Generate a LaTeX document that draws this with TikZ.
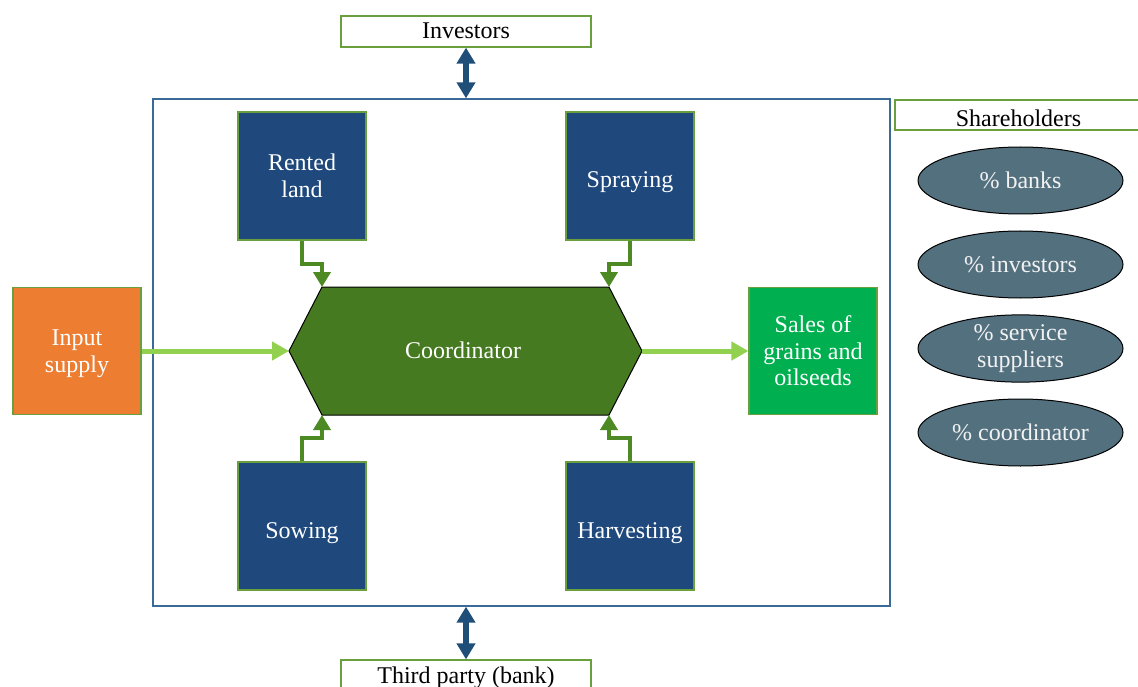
\documentclass[tikz,border=0pt]{standalone}
\usepackage{fontspec}
\setmainfont{Liberation Serif}
\usetikzlibrary{arrows.meta,shapes.geometric,calc}
\definecolor{boxgreen}{HTML}{6A9F3E}
\definecolor{darkblue}{HTML}{1F497D}
\definecolor{frameblue}{HTML}{3A6A98}
\definecolor{arrowblue}{HTML}{1F4E79}
\definecolor{hexgreen}{HTML}{467A21}
\definecolor{elbowgreen}{HTML}{4E8A23}
\definecolor{lightgreen}{HTML}{92D050}
\definecolor{orangefill}{HTML}{ED7D31}
\definecolor{salesgreen}{HTML}{00B050}
\definecolor{slate}{HTML}{53707F}
\begin{document}
\begin{tikzpicture}[x=1pt,y=-1pt,
  txt/.style={font=\fontsize{24}{26.5}\selectfont, align=center},
  sqbox/.style={txt, draw=boxgreen, line width=1.2pt, minimum width=128pt, minimum height=128pt, inner sep=0pt, text=white},
  actbox/.style={sqbox, fill=darkblue},
  lowtext/.style={text height=29pt, text depth=5pt},
  labbox/.style={txt, draw=boxgreen, line width=1.2pt, fill=white, inner sep=0pt, text=black},
  share/.style={ellipse, txt, draw=black, line width=1pt, fill=slate, text=white!95!black, minimum width=205pt, minimum height=67pt, inner sep=0pt},
  bluearrow/.style={draw=arrowblue, line width=6.5pt, {Triangle[length=16pt,width=18pt]}-{Triangle[length=16pt,width=18pt]}},
  flowarrow/.style={draw=lightgreen, line width=5pt, -{Triangle[length=17pt,width=18pt]}},
  elbow/.style={draw=elbowgreen, line width=4.5pt, -{Triangle[length=15pt,width=17pt]}}
]
\useasboundingbox (0,0) rectangle (1138,687);

% main frame
\node[draw=frameblue, line width=1.3pt, minimum width=737pt, minimum height=507pt, inner sep=0pt] (fr) at (521.5,352.5) {};

% top / bottom labels
\node[labbox, minimum width=250pt, minimum height=31pt, text height=20pt, text depth=5pt] (inv) at (466,31.5) {Investors};
\node[labbox, minimum width=250pt, minimum height=33pt, text height=19pt, text depth=5pt] (tp) at (466,676.5) {Third party (bank)};
\node[labbox, minimum width=247pt, minimum height=30pt, text height=23pt, text depth=0pt] (sh) at (1018.5,115) {Shareholders};

\draw[bluearrow] (inv.south) -- (inv.south |- fr.north);
\draw[bluearrow] (fr.south -| tp.north) -- (tp.north);

% activity boxes
\node[actbox] (rl) at (302,176) {Rented\\land};
\node[actbox, lowtext] (sp) at (630,176) {Spraying};
\node[actbox, lowtext] (sw) at (302,526) {Sowing};
\node[actbox, lowtext] (hv) at (630,526) {Harvesting};

% side boxes
\node[sqbox, fill=orangefill, minimum height=127pt] (is) at (77,351) {\rule{0pt}{21pt}Input\\supply};
\node[sqbox, fill=salesgreen, minimum height=127pt] (sa) at (813,351) {Sales of\\grains and\\oilseeds};

% coordinator hexagon
\coordinate (hxl) at (289,351);
\coordinate (hxtl) at (322,287);
\coordinate (hxtr) at (609,287);
\coordinate (hxr) at (642,351);
\coordinate (hxbr) at (609,415);
\coordinate (hxbl) at (322,415);
\draw[fill=hexgreen, draw=black, line width=1pt] (hxl) -- (hxtl) -- (hxtr) -- (hxr) -- (hxbr) -- (hxbl) -- cycle;
\node[txt, text=white] (co) at (463,350) {Coordinator};

% flow arrows
\draw[flowarrow] (is.east) -- (hxl);
\draw[flowarrow] (hxr) -- (sa.west);

% elbow connectors
\draw[elbow] (rl.south) |- ($(rl.south)!0.5!(hxtl)$) -| (hxtl);
\draw[elbow] (sp.south) |- ($(sp.south)!0.5!(hxtr)$) -| (hxtr);
\draw[elbow] (sw.north) |- ($(sw.north)!0.5!(hxbl)$) -| (hxbl);
\draw[elbow] (hv.north) |- ($(hv.north)!0.5!(hxbr)$) -| (hxbr);

% shareholders
\node[share] (e1) at (1020.5,180.5) {\% banks};
\node[share] (e2) at (1020.5,264.5) {\% investors};
\node[share] (e3) at (1020.5,348.5) {\% service\\suppliers};
\node[share] (e4) at (1020.5,432.5) {\% coordinator};
\end{tikzpicture}
\end{document}
